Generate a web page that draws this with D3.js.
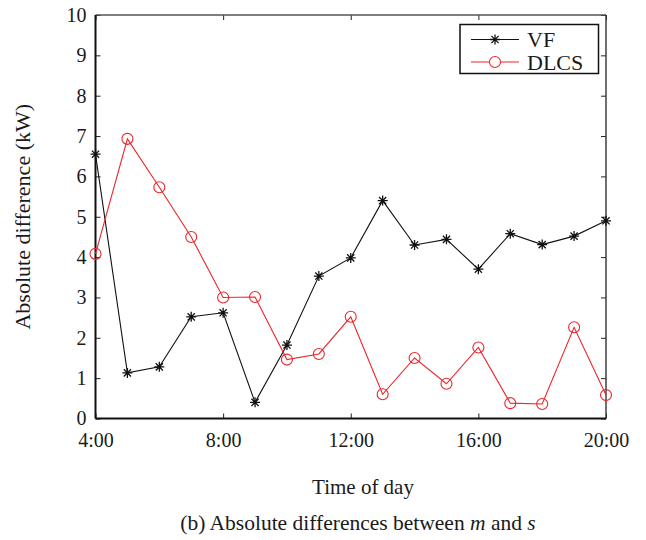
<!DOCTYPE html>
<html>
<head>
<meta charset="utf-8">
<script src="https://cdn.jsdelivr.net/npm/d3@7/dist/d3.min.js"></script>
<style>
  html, body { margin: 0; padding: 0; background: #fff; }
  svg text { font-family: "Liberation Serif", "Times New Roman", serif; fill: #1a1a1a; }
</style>
</head>
<body>
<svg id="chart" width="646" height="540"></svg>
<script>
// Hour of day for each sample
const hours = [4, 5, 6, 7, 8, 9, 10, 11, 12, 13, 14, 15, 16, 17, 18, 19, 20];
// Absolute difference (kW) for each method
const vfValues   = [6.55, 1.13, 1.28, 2.52, 2.62, 0.40, 1.82, 3.53, 3.98, 5.40, 4.30, 4.44, 3.70, 4.58, 4.31, 4.52, 4.90];
const dlcsValues = [4.08, 6.93, 5.73, 4.50, 3.00, 3.01, 1.46, 1.60, 2.52, 0.60, 1.50, 0.86, 1.76, 0.38, 0.36, 2.26, 0.58];
const xTicks = [4, 8, 12, 16, 20];
const xTickLabels = ["4:00", "8:00", "12:00", "16:00", "20:00"];
const yTicks = [0, 1, 2, 3, 4, 5, 6, 7, 8, 9, 10];
const seriesNames = ["VF", "DLCS"];

const svg = d3.select("#chart");
const plotLeft = 95.5, plotRight = 606, plotTop = 15, plotBottom = 418.5;

const x = d3.scaleLinear().domain([4, 20]).range([plotLeft, plotRight]);
const y = d3.scaleLinear().domain([0, 10]).range([plotBottom, plotTop]);

const tickLen = 5;

// Inward ticks on all four sides
const gx = svg.append("g").attr("transform", `translate(0,${plotBottom})`)
  .call(d3.axisBottom(x).tickValues(xTicks).tickSize(-tickLen).tickPadding(14)
    .tickFormat((d, i) => xTickLabels[i]));
const gxTop = svg.append("g").attr("transform", `translate(0,${plotTop})`)
  .call(d3.axisTop(x).tickValues(xTicks).tickSize(-tickLen).tickFormat(""));
const gy = svg.append("g").attr("transform", `translate(${plotLeft},0)`)
  .call(d3.axisLeft(y).tickValues(yTicks).tickSize(-tickLen).tickPadding(9));
const gyRight = svg.append("g").attr("transform", `translate(${plotRight},0)`)
  .call(d3.axisRight(y).tickValues(yTicks).tickSize(-tickLen).tickFormat(""));

[gx, gxTop, gy, gyRight].forEach(g => {
  g.select(".domain").remove();
  g.selectAll(".tick line").attr("stroke", "#222").attr("stroke-width", 1);
});
gx.selectAll(".tick text").attr("font-size", 20).attr("fill", "#1a1a1a");
gy.selectAll(".tick text").attr("font-size", 20).attr("fill", "#1a1a1a");

// Plot frame
svg.append("line").attr("x1", plotLeft).attr("x2", plotRight).attr("y1", plotTop).attr("y2", plotTop)
  .attr("stroke", "#555").attr("stroke-width", 1.4);
svg.append("line").attr("x1", plotRight).attr("x2", plotRight).attr("y1", plotTop).attr("y2", plotBottom)
  .attr("stroke", "#333").attr("stroke-width", 1.4);
svg.append("line").attr("x1", plotLeft).attr("x2", plotLeft).attr("y1", plotTop).attr("y2", plotBottom)
  .attr("stroke", "#111").attr("stroke-width", 2);
svg.append("line").attr("x1", plotLeft).attr("x2", plotRight).attr("y1", plotBottom).attr("y2", plotBottom)
  .attr("stroke", "#111").attr("stroke-width", 2);

const red = "#ec262b";
const line = d3.line().x(d => x(d[0])).y(d => y(d[1]));
const vfData = hours.map((h, i) => [h, vfValues[i]]);
const dlcsData = hours.map((h, i) => [h, dlcsValues[i]]);

svg.append("path").datum(vfData).attr("d", line)
  .attr("fill", "none").attr("stroke", "#111").attr("stroke-width", 1.1);
svg.append("path").datum(dlcsData).attr("d", line)
  .attr("fill", "none").attr("stroke", red).attr("stroke-width", 1.1);

// Star marker: plus and cross overlaid
function star(g, cx, cy, r) {
  const d = r * 0.72;
  g.append("path")
    .attr("d", `M${cx - r},${cy}H${cx + r}M${cx},${cy - r}V${cy + r}` +
               `M${cx - d},${cy - d}L${cx + d},${cy + d}M${cx - d},${cy + d}L${cx + d},${cy - d}`)
    .attr("stroke", "#111").attr("stroke-width", 1.3).attr("fill", "none");
}

const vfMarks = svg.append("g");
vfData.forEach(d => star(vfMarks, x(d[0]), y(d[1]), 5));

svg.append("g").selectAll("circle").data(dlcsData).join("circle")
  .attr("cx", d => x(d[0])).attr("cy", d => y(d[1])).attr("r", 5.5)
  .attr("fill", "none").attr("stroke", red).attr("stroke-width", 1.1);

// Legend
const lg = svg.append("g");
lg.append("rect").attr("x", 460).attr("y", 24.5).attr("width", 138.5).attr("height", 49)
  .attr("fill", "#fff").attr("stroke", "#111").attr("stroke-width", 1.5);
const legendRows = [
  { name: seriesNames[0], y: 39.5, color: "#111", mark: "star" },
  { name: seriesNames[1], y: 62, color: red, mark: "circle" }
];
legendRows.forEach(r => {
  lg.append("line").attr("x1", 471).attr("x2", 519).attr("y1", r.y).attr("y2", r.y)
    .attr("stroke", r.color).attr("stroke-width", 1.1);
  if (r.mark === "star") star(lg, 495, r.y, 5);
  else lg.append("circle").attr("cx", 495).attr("cy", r.y).attr("r", 5.5)
    .attr("fill", "#fff").attr("stroke", r.color).attr("stroke-width", 1.1);
  lg.append("text").attr("x", 527).attr("y", r.y).attr("dy", "0.35em")
    .attr("font-size", 22).text(r.name);
});

// Axis titles
svg.append("text").attr("transform", `translate(30,${(plotTop + plotBottom) / 2}) rotate(-90)`)
  .attr("text-anchor", "middle").attr("font-size", 22).text("Absolute difference (kW)");
svg.append("text").attr("x", 363).attr("y", 494).attr("text-anchor", "middle")
  .attr("font-size", 21).text("Time of day");

// Caption with italic symbols
const cap = svg.append("text").attr("x", 358).attr("y", 530).attr("text-anchor", "middle")
  .attr("font-size", 21.5);
cap.append("tspan").text("(b) Absolute differences between ");
cap.append("tspan").attr("font-style", "italic").text("m");
cap.append("tspan").text(" and ");
cap.append("tspan").attr("font-style", "italic").text("s");
</script>
</body>
</html>
